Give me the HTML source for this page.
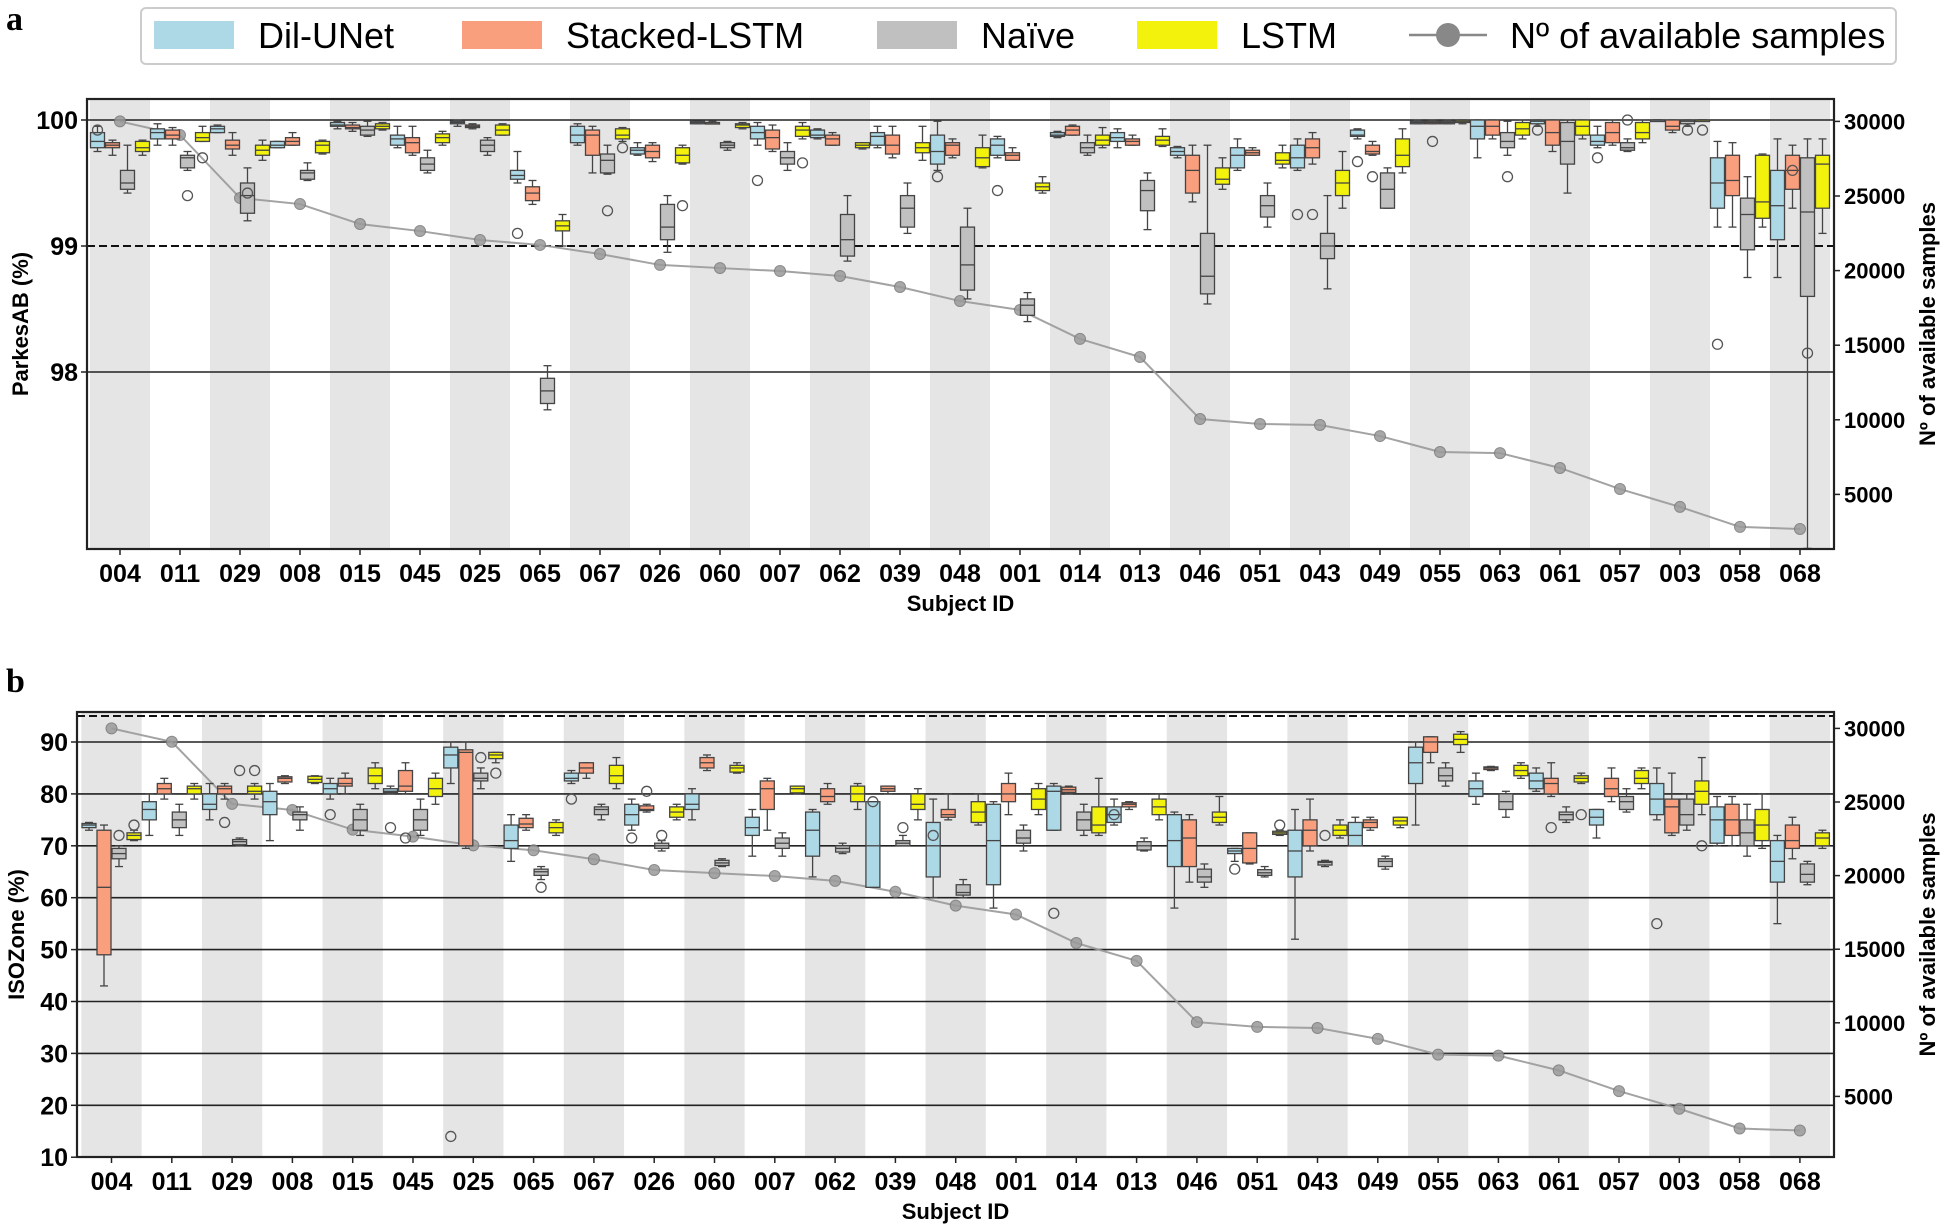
<!DOCTYPE html>
<html><head><meta charset="utf-8"><style>
html,body{margin:0;padding:0;background:#fff;}
svg{display:block;font-family:"Liberation Sans",sans-serif;}
</style></head><body>
<svg id="s" width="1943" height="1227" xmlns="http://www.w3.org/2000/svg"></svg>
<script>
const ids=["004","011","029","008","015","045","025","065","067","026","060","007","062","039","048","001","014","013","046","051","043","049","055","063","061","057","003","058","068"];
const samples=[30000,29090,24870,24460,23120,22650,22050,21720,21110,20380,20170,19970,19640,18900,17960,17360,15420,14210,10050,9720,9650,8910,7840,7770,6770,5360,4160,2820,2680];
const A=[
[[99.75,99.78,99.83,99.9,99.95],[99.72,99.78,99.8,99.82,99.84],[99.42,99.45,99.5,99.6,99.8],[99.72,99.75,99.78,99.83,99.84]],
[[99.8,99.85,99.9,99.93,99.97],[99.8,99.85,99.88,99.92,99.94],[99.6,99.62,99.7,99.72,99.75],[99.83,99.83,99.86,99.9,99.95]],
[[99.9,99.9,99.93,99.95,99.96],[99.72,99.77,99.8,99.84,99.9],[99.2,99.26,99.4,99.5,99.62],[99.68,99.72,99.76,99.8,99.84]],
[[99.78,99.78,99.8,99.83,99.83],[99.8,99.8,99.83,99.86,99.9],[99.52,99.53,99.58,99.6,99.66],[99.73,99.74,99.8,99.83,99.84]],
[[99.93,99.95,99.96,99.98,99.99],[99.91,99.93,99.94,99.96,99.98],[99.87,99.88,99.92,99.95,99.99],[99.92,99.93,99.95,99.97,99.98]],
[[99.78,99.8,99.85,99.88,99.95],[99.72,99.74,99.82,99.86,99.95],[99.58,99.6,99.65,99.7,99.76],[99.8,99.82,99.86,99.89,99.91]],
[[99.95,99.97,99.98,99.99,100],[99.93,99.94,99.95,99.96,99.97],[99.72,99.75,99.8,99.84,99.86],[99.88,99.88,99.92,99.96,99.97]],
[[99.5,99.53,99.56,99.6,99.75],[99.33,99.36,99.42,99.47,99.52],[97.7,97.75,97.85,97.95,98.05],[99.0,99.12,99.16,99.2,99.25]],
[[99.8,99.82,99.88,99.95,99.97],[99.58,99.72,99.88,99.92,99.95],[99.57,99.58,99.68,99.73,99.8],[99.83,99.85,99.88,99.93,99.94]],
[[99.72,99.73,99.76,99.78,99.82],[99.67,99.7,99.75,99.8,99.82],[98.95,99.05,99.15,99.33,99.4],[99.65,99.66,99.72,99.78,99.8]],
[[99.97,99.97,99.98,99.99,99.99],[99.97,99.97,99.98,99.98,99.99],[99.76,99.78,99.8,99.82,99.83],[99.93,99.94,99.96,99.97,99.98]],
[[99.8,99.85,99.9,99.95,99.98],[99.75,99.77,99.86,99.92,99.96],[99.6,99.65,99.7,99.75,99.82],[99.85,99.87,99.92,99.95,99.98]],
[[99.85,99.86,99.88,99.92,99.93],[99.8,99.8,99.85,99.88,99.9],[98.88,98.92,99.05,99.25,99.4],[99.77,99.78,99.8,99.82,99.82]],
[[99.78,99.8,99.87,99.9,99.95],[99.7,99.73,99.8,99.88,99.95],[99.1,99.15,99.3,99.4,99.5],[99.68,99.74,99.78,99.82,99.95]],
[[99.6,99.65,99.75,99.88,99.99],[99.7,99.72,99.8,99.82,99.85],[98.58,98.65,98.85,99.15,99.3],[99.62,99.63,99.7,99.78,99.88]],
[[99.7,99.72,99.8,99.85,99.87],[99.68,99.68,99.72,99.74,99.78],[98.4,98.45,98.53,98.58,98.63],[99.42,99.44,99.47,99.5,99.55]],
[[99.86,99.87,99.88,99.9,99.91],[99.88,99.88,99.92,99.95,99.96],[99.72,99.74,99.78,99.82,99.88],[99.78,99.8,99.84,99.88,99.94]],
[[99.78,99.83,99.86,99.9,99.93],[99.8,99.8,99.83,99.85,99.88],[99.13,99.28,99.44,99.52,99.58],[99.79,99.8,99.84,99.87,99.93]],
[[99.7,99.72,99.75,99.78,99.79],[99.35,99.42,99.6,99.72,99.8],[98.54,98.62,98.76,99.1,99.8],[99.45,99.49,99.53,99.62,99.7]],
[[99.6,99.62,99.72,99.78,99.85],[99.72,99.72,99.74,99.76,99.78],[99.15,99.23,99.32,99.4,99.5],[99.62,99.65,99.68,99.74,99.8]],
[[99.6,99.62,99.7,99.8,99.85],[99.65,99.7,99.78,99.85,99.9],[98.66,98.9,99.0,99.1,99.4],[99.3,99.4,99.5,99.6,99.75]],
[[99.85,99.87,99.88,99.92,99.93],[99.72,99.73,99.75,99.8,99.83],[99.3,99.3,99.45,99.58,99.62],[99.58,99.63,99.72,99.85,99.93]],
[[99.97,99.97,99.98,99.99,100],[99.97,99.97,99.98,99.99,100],[99.97,99.97,99.98,99.99,100],[99.97,99.98,99.99,100,100]],
[[99.7,99.85,99.95,100,100],[99.85,99.88,99.95,100,100],[99.72,99.78,99.83,99.9,99.99],[99.85,99.88,99.93,99.98,100]],
[[99.95,99.97,99.99,100,100],[99.75,99.8,99.9,100,100],[99.42,99.65,99.83,99.98,100],[99.85,99.88,99.95,100,100]],
[[99.78,99.8,99.83,99.88,99.95],[99.8,99.82,99.9,99.98,100],[99.75,99.76,99.78,99.82,99.85],[99.82,99.85,99.9,99.98,100]],
[[100,100,100,100,100],[99.9,99.92,99.95,100,100],[99.95,99.97,99.99,100,100],[100,100,100,100,100]],
[[99.15,99.3,99.5,99.7,99.83],[99.15,99.4,99.52,99.72,99.82],[98.75,98.97,99.25,99.38,99.55],[99.15,99.22,99.35,99.72,99.73]],
[[98.75,99.05,99.32,99.6,99.85],[99.3,99.45,99.6,99.72,99.8],[96.6,98.6,99.27,99.7,99.85],[99.1,99.3,99.65,99.72,99.85]]];
const B=[
[[73,73.5,74,74.3,74.5],[43,49,62,73,74],[66,67.5,68.5,69.5,70],[71,71.2,72,72.5,73]],
[[72,75,77,78.5,80],[79,80,81,82,83],[72,73.5,75,76.5,78],[79,80,81,81.5,82]],
[[75,77,78,80,82],[79,80,81,81.5,82],[70,70.2,70.8,71.2,71.5],[79,80,80.5,81.5,82]],
[[71,76,78.5,80.5,82],[82,82.3,83,83.3,83.5],[73,75,76,76.5,77.5],[82,82.2,82.8,83.4,83.5]],
[[79,80,81,82,83],[80,81.5,82,83,84],[72,73,75,77,78],[81,82,83.5,85,86]],
[[80,80.3,80.5,81,81.5],[80,80.5,81.5,84.5,86],[72,73,75,77,79],[78,79.5,81,83,84]],
[[82,85,87.5,89,90],[69.5,70,88,88.5,90],[81,82.5,83,84,85],[86,86.8,87.5,88,88]],
[[67,69.5,71,74,76],[73,73.5,74.2,75.3,76],[63.5,64.3,65,65.5,66],[72,72.5,73.5,74.5,75]],
[[82,82.5,83,84,84.5],[83,84,85,86,86],[75,76,77,77.5,78],[81,82,83.5,85.5,87]],
[[73,74,76,78,79],[76.5,76.8,77,77.7,78],[69,69.5,70,70.5,71],[75,75.5,76.5,77.5,78]],
[[75,77,78,80,81],[84.5,85,86,87,87.5],[66,66.2,66.7,67.2,67.5],[84,84.2,85,85.5,86]],
[[68,72,73.5,75.5,77],[73,77,81,82.5,83],[68,69.5,70.5,71.5,72.5],[80,80.2,81,81.5,81.5]],
[[64,68,73,76.5,77],[78,78.5,79.5,81,82],[68.5,68.8,69.5,70,70.5],[77,78.5,80,81.5,82]],
[[62,62,70,78.5,78.5],[80,80.5,81,81.5,81.5],[70,70,70.5,71,72],[75,77,78,80,81]],
[[60,64,70,74.5,79],[75,75.5,76,77,80],[60,60.5,61,62.5,63.5],[74,74.5,76.5,78.5,80]],
[[58,62.5,71,78,78.5],[76,78.5,80,82,84],[69,70.5,71.5,73,74],[76,77,79,81,82]],
[[73,73,80.5,81.5,82],[80,80.3,80.8,81.3,81.5],[72,73,75,76.5,78],[72,72.5,74,77.5,83]],
[[74,74.5,76,77.5,79],[77,77.5,78,78.3,78.5],[69,69.2,70,70.8,71.5],[75,76,77.5,79,80]],
[[58,66,71,76,76.5],[63,66,71.5,75,76],[62,63,64,65.5,66.5],[74,74.5,75.5,76.5,79.5]],
[[67,68.5,69,69.5,69.5],[66.5,66.7,69.5,72.5,72.5],[64,64.3,64.8,65.4,66],[72,72.2,72.5,72.8,73]],
[[52,64,69,73,77],[69,70,73,75,79],[66,66.3,66.8,67,67.2],[71.5,72,73,74,75]],
[[70,70,72,74.5,75.5],[73,73.5,74.5,75,75.5],[65.5,66,67,67.5,68],[73.5,74,74.8,75.5,75.5]],
[[74,82,86,89,90],[86,88,90,91,91],[81.5,82.5,83.5,85,86],[88,89.5,90.5,91.5,92]],
[[78,79.5,81,82.5,84],[84.5,84.7,85,85.2,85.3],[75.5,77,78.5,80,80.5],[83,83.5,84.5,85.5,86]],
[[80.5,81,82.5,84,85],[79.5,80,82,83,86],[74.5,75,76,76.5,77.5],[82,82.3,83,83.5,84]],
[[71.5,74,75.5,77,77],[78.5,79.5,81,83,85],[76.5,77,78.5,79.5,81],[81,82,83,84.5,85]],
[[75,76,79,82,85],[72,72.5,77.5,79,84],[73,74,76,79,80],[76,78,80.5,82.5,87]],
[[70,70.5,75,77.5,79.5],[70,72,75,78,79.5],[68,70,72.5,75,78],[69.5,71,74,77,80]],
[[55,63,67,71,72],[67.5,69.5,71,74,75.5],[62.5,63,64.5,66.5,67],[69.5,70,71.5,72.5,73]]];
const cols=["#add8e6","#fa9f7e","#c0c0c0","#f2f20c"];
const offs=[-22.5,-7.5,7.5,22.5];
let o="";
function t(x,y,s,sz,ex){o+=`<text x="${x}" y="${y}" font-size="${sz}" ${ex||""}>${s}</text>`;}
function panel(P){
  const {L,R,T,Bm,x0,w,yv,ys,data,hl,dash,yt,outl}=P;
  for(let i=0;i<29;i+=2)o+=`<rect x="${x0+w*i-w/2}" y="${T}" width="${w}" height="${Bm-T}" fill="#e5e5e5"/>`;
  hl.forEach(v=>o+=`<line x1="${L}" x2="${R}" y1="${yv(v)}" y2="${yv(v)}" stroke="#222" stroke-width="1.6"/>`);
  o+=`<line x1="${L}" x2="${R}" y1="${yv(dash)}" y2="${yv(dash)}" stroke="#111" stroke-width="2" stroke-dasharray="8,4"/>`;
  // samples line
  let pts=samples.map((s,i)=>`${x0+w*i},${ys(s)}`).join(" ");
  o+=`<polyline points="${pts}" fill="none" stroke="#999" stroke-width="2" opacity="0.9"/>`;
  samples.forEach((s,i)=>o+=`<circle cx="${x0+w*i}" cy="${ys(s)}" r="5.5" fill="#9a9a9a" stroke="#777" opacity="0.85"/>`);
  data.forEach((g,i)=>g.forEach((b,k)=>{
    const cx=x0+w*i+offs[k],bw=14;
    const [lo,q1,md,q3,hi]=b.map(yv);
    o+=`<g stroke="#444" stroke-width="1.3">`+
    `<line x1="${cx}" x2="${cx}" y1="${hi}" y2="${q3}"/><line x1="${cx}" x2="${cx}" y1="${q1}" y2="${lo}"/>`+
    `<line x1="${cx-4}" x2="${cx+4}" y1="${hi}" y2="${hi}"/><line x1="${cx-4}" x2="${cx+4}" y1="${lo}" y2="${lo}"/>`+
    `<rect x="${cx-bw/2}" y="${q3}" width="${bw}" height="${Math.max(q1-q3,1.5)}" fill="${cols[k]}"/>`+
    `<line x1="${cx-bw/2}" x2="${cx+bw/2}" y1="${md}" y2="${md}"/></g>`;
  }));
  outl.forEach(([i,k,v])=>o+=`<circle cx="${x0+w*i+offs[k]}" cy="${yv(v)}" r="5" fill="none" stroke="#555" stroke-width="1.3"/>`);
  o+=`<rect x="${L}" y="${T}" width="${R-L}" height="${Bm-T}" fill="none" stroke="#222" stroke-width="2.2"/>`;
  ids.forEach((s,i)=>{const x=x0+w*i;o+=`<line x1="${x}" x2="${x}" y1="${Bm}" y2="${Bm+6}" stroke="#222" stroke-width="1.5"/>`;t(x,Bm+33,s,25,'font-weight="bold" text-anchor="middle"');});
  yt.forEach(v=>{o+=`<line x1="${L-6}" x2="${L}" y1="${yv(v)}" y2="${yv(v)}" stroke="#222" stroke-width="1.5"/>`;t(L-9,yv(v)+9,v,25,'font-weight="bold" text-anchor="end"');});
  [5000,10000,15000,20000,25000,30000].forEach(s=>{o+=`<line x1="${R}" x2="${R+6}" y1="${ys(s)}" y2="${ys(s)}" stroke="#222" stroke-width="1.5"/>`;t(R+10,ys(s)+8,s,22,'font-weight="bold"');});
  t((L+R)/2,Bm+62,"Subject ID",22,'font-weight="bold" text-anchor="middle"');
  const my=(T+Bm)/2;
  t(0,0,"Nº of available samples",22,`font-weight="bold" text-anchor="middle" transform="translate(1935,${my}) rotate(-90)"`);
  t(0,0,P.ylab,22,`font-weight="bold" text-anchor="middle" transform="translate(${P.ylx},${my}) rotate(-90)"`);
}
panel({L:87,R:1834,T:99,Bm:549,x0:120,w:60,yv:v=>120+(100-v)*126,ys:s=>569-s/5000*74.6,data:A,hl:[100,98],dash:99,yt:[100,99,98],ylab:"ParkesAB (%)",ylx:28,
 outl:[[0,0,99.92],[1,2,99.4],[1,3,99.7],[7,0,99.1],[8,3,99.78],[8,2,99.28],[9,3,99.32],[11,0,99.52],[11,3,99.66],[14,0,99.55],[15,0,99.44],[20,1,99.25],[20,0,99.25],[21,0,99.67],[21,1,99.55],[22,1,99.83],[23,2,99.55],[24,0,99.92],[25,0,99.7],[25,2,100],[26,2,99.92],[26,3,99.92],[27,0,98.22],[28,2,98.15],[28,1,99.6],[2,2,99.42]]});
panel({L:77,R:1834,T:712,Bm:1157,x0:111.5,w:60.3,yv:v=>742+(90-v)*5.19,ys:s=>1170-s/5000*73.6,data:B,hl:[90,80,70,60,50,40,30,20],dash:95,yt:[90,80,70,60,50,40,30,20,10],ylab:"ISOZone (%)",ylx:24,
 outl:[[6,0,14],[26,0,55],[0,2,72],[0,3,74],[2,2,84.5],[2,3,84.5],[2,1,74.5],[4,0,76],[5,1,71.5],[5,0,73.5],[6,2,87],[6,3,84],[7,2,62],[8,0,79],[9,0,71.5],[9,1,80.5],[9,2,72],[13,2,73.5],[13,0,78.5],[14,0,72],[16,0,57],[17,0,76],[19,0,65.5],[19,3,74],[20,2,72],[24,1,73.5],[24,3,76],[26,3,70]]});
// legend
o+=`<rect x="141" y="8" width="1755" height="56" rx="5" fill="#fff" stroke="#ccc" stroke-width="2"/>`;
const lg=[[154,"Dil-UNet",0],[462,"Stacked-LSTM",1],[877,"Naïve",2],[1137,"LSTM",3]];
lg.forEach(([x,s,k])=>{o+=`<rect x="${x}" y="21" width="80" height="28" fill="${cols[k]}"/>`;t(x+104,48,s,36);});
o+=`<line x1="1409" x2="1487" y1="35" y2="35" stroke="#888" stroke-width="2.5"/><circle cx="1448" cy="35" r="12" fill="#888"/>`;
t(1510,48,"Nº of available samples",36);
t(6,30,"a",34,'font-weight="bold" font-family="Liberation Serif"');
t(6,692,"b",34,'font-weight="bold" font-family="Liberation Serif"');
document.getElementById("s").innerHTML=o;
</script>
</body></html>
